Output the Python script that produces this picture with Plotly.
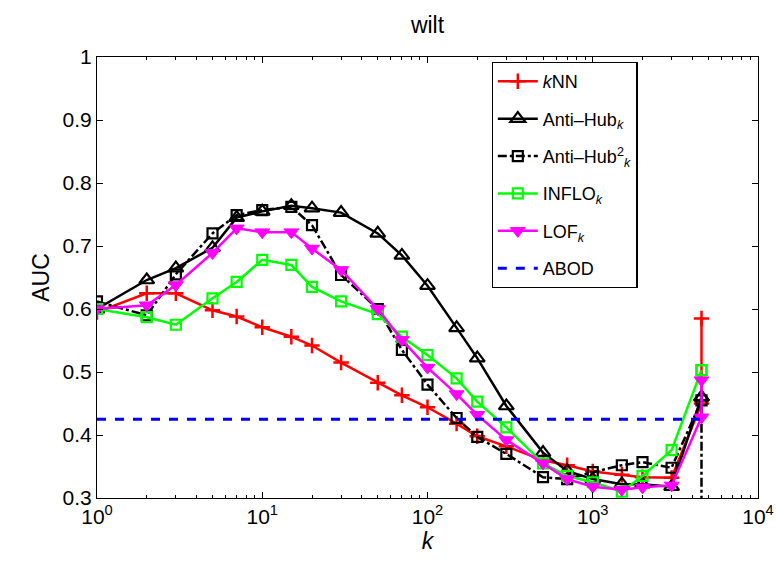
import plotly.graph_objects as go

# Neighbourhood sizes k (the last two entries sit at the data-set size)
k_values = [1, 2, 3, 5, 7, 10, 15, 20, 30, 50, 70, 100, 150, 200, 300,
            500, 700, 1000, 1500, 2000, 3000, 4550, 4551]

auc_knn = [0.595, 0.625, 0.625, 0.598, 0.588, 0.571, 0.556, 0.542, 0.515, 0.483,
           0.463, 0.444, 0.418, 0.398, 0.382, 0.360, 0.352, 0.342, 0.337, 0.333,
           0.332, 0.450, 0.585]
auc_antihub = [0.600, 0.646, 0.665, 0.697, 0.745, 0.755, 0.764, 0.760, 0.753, 0.720,
               0.685, 0.637, 0.570, 0.522, 0.446, 0.372, 0.343, 0.330, 0.322, 0.322,
               0.318, 0.460, 0.460]
auc_antihub2 = [0.612, 0.590, 0.655, 0.720, 0.749, 0.757, 0.762, 0.733, 0.654, 0.600,
                0.535, 0.480, 0.427, 0.397, 0.370, 0.333, 0.330, 0.341, 0.352, 0.357,
                0.348, 0.455, 0.280]
auc_inflo = [0.600, 0.587, 0.575, 0.617, 0.643, 0.678, 0.670, 0.635, 0.612, 0.592,
             0.556, 0.527, 0.490, 0.453, 0.412, 0.355, 0.335, 0.325, 0.310, 0.335,
             0.376, 0.503, 0.503]
auc_lof = [0.600, 0.606, 0.638, 0.689, 0.728, 0.722, 0.722, 0.696, 0.662, 0.600,
           0.551, 0.507, 0.465, 0.432, 0.392, 0.355, 0.330, 0.318, 0.313, 0.317,
           0.320, 0.428, 0.487]
auc_abod = 0.425

x_tick_vals = [1, 10, 100, 1000, 10000]
x_tick_text = ["10<sup>0</sup>", "10<sup>1</sup>", "10<sup>2</sup>",
               "10<sup>3</sup>", "10<sup>4</sup>"]
x_minor_vals = [m * 10 ** e for e in range(4) for m in range(2, 10)]
y_tick_vals = [0.3, 0.4, 0.5, 0.6, 0.7, 0.8, 0.9, 1.0]
y_tick_text = ["0.3", "0.4", "0.5", "0.6", "0.7", "0.8", "0.9", "1"]

FONT = "Liberation Sans, Arial, Helvetica, sans-serif"

fig = go.Figure()

series = [
    ("<i>k</i>NN", auc_knn, "#ff0000", "solid",
     dict(symbol="cross-thin-open", size=11, line=dict(width=2.5, color="#ff0000"))),
    ("Anti\u2013Hub<sub><i>k</i></sub>", auc_antihub, "#000000", "solid",
     dict(symbol="triangle-up-open", size=13, line=dict(width=2.2, color="#000000"))),
    ("Anti\u2013Hub<sup>2</sup><sub><i>k</i></sub>", auc_antihub2, "#000000", "dashdot",
     dict(symbol="square-open", size=10, line=dict(width=2.2, color="#000000"))),
    ("INFLO<sub><i>k</i></sub>", auc_inflo, "#00ff00", "solid",
     dict(symbol="square-open", size=10, line=dict(width=2.2, color="#00ff00"))),
    ("LOF<sub><i>k</i></sub>", auc_lof, "#ff00ff", "solid",
     dict(symbol="triangle-down", size=13, color="#ff00ff",
          line=dict(width=1, color="#ff00ff"))),
]

for i, (name, vals, color, dash, marker) in enumerate(series):
    fig.add_trace(go.Scatter(
        x=k_values, y=vals, name=name, mode="lines+markers",
        line=dict(color=color, width=2.5, dash=dash),
        marker=marker, legendgroup=f"g{i}",
    ))

fig.add_trace(go.Scatter(
    x=[k_values[0], k_values[-1]], y=[auc_abod, auc_abod], name="ABOD",
    mode="lines", line=dict(color="#0000ff", width=3, dash="dash"),
    legendgroup="g5",
))

axis_common = dict(
    showgrid=False, zeroline=False, showline=True, linecolor="black",
    linewidth=1.2, mirror="ticks", ticks="inside", tickcolor="black",
    ticklen=6, tickfont=dict(family=FONT, size=21, color="black"),
    automargin=False, ticklabeloverflow="allow",
)

fig.update_xaxes(
    type="log", range=[0, 4], tickmode="array",
    tickvals=x_tick_vals, ticktext=x_tick_text,
    title=dict(text="<i>k</i>", font=dict(family=FONT, size=23, color="black"),
               standoff=2),
    minor=dict(ticks="inside", ticklen=3, tickcolor="black", showgrid=False,
               tickmode="array", tickvals=x_minor_vals),
    **axis_common,
)
fig.update_yaxes(
    range=[0.3, 1.0], tickmode="array", tickvals=y_tick_vals, ticktext=y_tick_text,
    title=dict(text="AUC", font=dict(family=FONT, size=23, color="black"),
               standoff=6),
    **axis_common,
)

fig.update_layout(
    width=776, height=571,
    margin=dict(l=97, r=18, t=57, b=73),
    paper_bgcolor="white", plot_bgcolor="white",
    font=dict(family=FONT, color="black"),
    title=dict(text="wilt", x=0.5, xref="paper", y=0.957, yref="container",
               yanchor="middle", xanchor="center",
               font=dict(family=FONT, size=23, color="black")),
    legend=dict(
        x=0.597, y=0.989, xanchor="left", yanchor="top",
        bgcolor="white", bordercolor="black", borderwidth=1.2,
        font=dict(family=FONT, size=18, color="black"),
        tracegroupgap=11, itemwidth=40,
    ),
)

fig.write_html("out.html")
